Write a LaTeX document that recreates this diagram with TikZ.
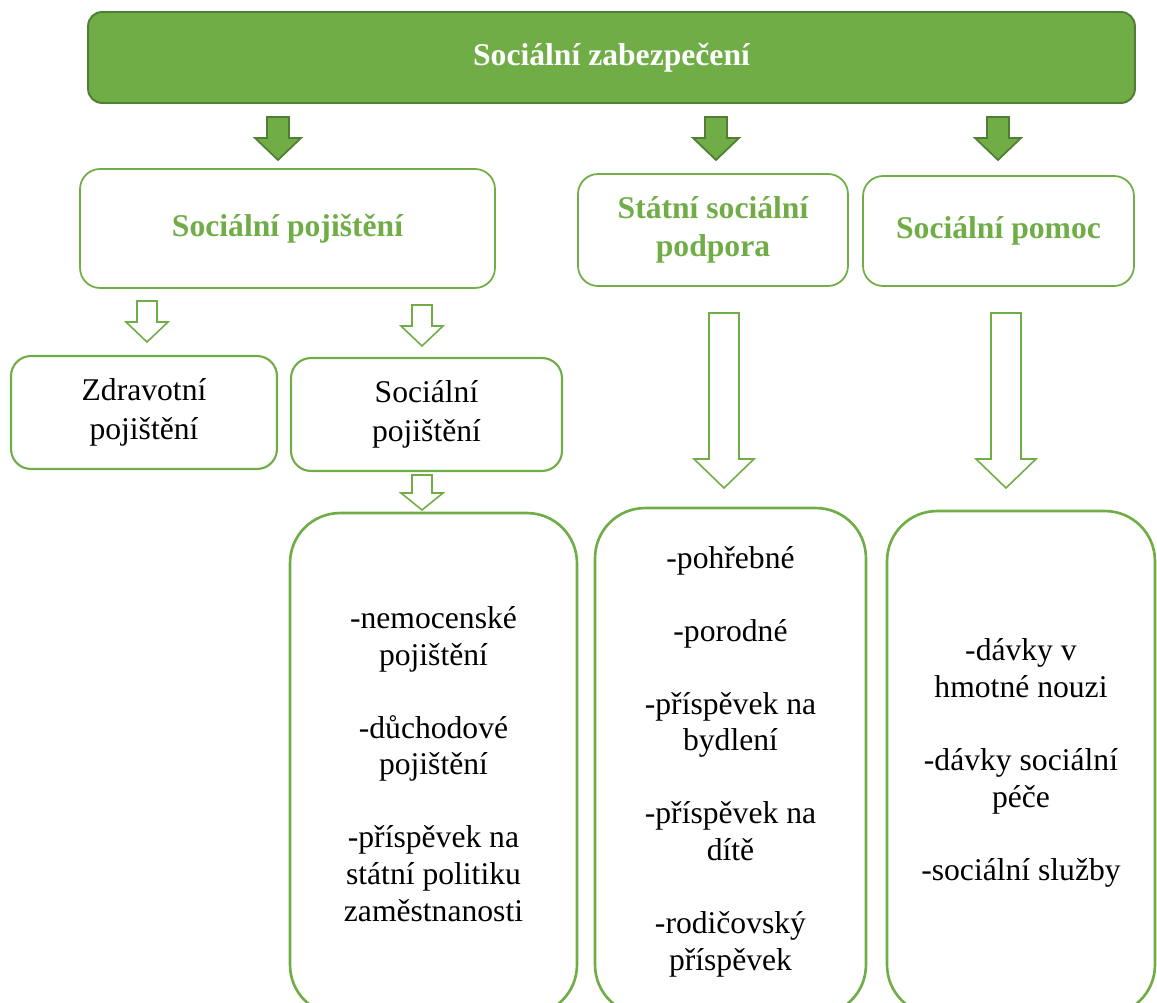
\documentclass[tikz,border=0pt]{standalone}
\usepackage{fontspec}
\setmainfont{Liberation Serif}
\usepackage{tikz}
\usetikzlibrary{calc, positioning}

\definecolor{sgreen}{HTML}{70AD47}
\definecolor{sdark}{HTML}{507E32}

% block arrow pointing down: style, x, top, head start, tip, shaft half, head half
\newcommand{\barrow}[7]{\draw[#1] (#2-#6,#3) -- (#2+#6,#3) -- (#2+#6,#4) -- (#2+#7,#4) -- (#2,#5) -- (#2-#7,#4) -- (#2-#6,#4) -- cycle;}

\begin{document}
\begin{tikzpicture}[x=0.02cm, y=-0.02cm,
  every node/.style={inner sep=0pt, align=center},
  headbox/.style={draw=sdark, fill=sgreen, line width=1.1pt, rounded corners=0.28cm, text=white,
    font=\fontsize{18}{21}\selectfont\bfseries},
  catbox/.style={draw=sgreen, fill=white, line width=1pt, rounded corners=0.4cm, text=sgreen,
    font=\fontsize{18}{21.6}\selectfont\bfseries},
  subbox/.style={draw=sgreen, fill=white, line width=1.2pt, rounded corners=0.4cm,
    font=\fontsize{18}{22.2}\selectfont},
  listbox/.style={draw=sgreen, fill=white, line width=1.5pt, rounded corners=1cm,
    font=\fontsize{18}{20.8}\selectfont},
  fullarrow/.style={draw=sdark, fill=sgreen, line width=1pt, line join=miter},
  openarrow/.style={draw=sgreen, fill=white, line width=0.9pt, line join=miter}]
\clip (0,0) rectangle (1157,1003);

\node[headbox, minimum width=20.94cm, minimum height=1.82cm] (head) at (611.5,57.5) {Sociální zabezpečení};

\node[catbox, minimum width=8.3cm, minimum height=2.38cm] (pojisteni) at (287.5,228.5) {Sociální pojištění};
\node[catbox, minimum width=5.4cm, minimum height=2.24cm] (podpora) at (713,230) {Státní sociální\\podpora};
\node[catbox, minimum width=5.42cm, minimum height=2.2cm] (pomoc) at (998.5,231) {Sociální pomoc};

\node[subbox, minimum width=5.32cm, minimum height=2.26cm] (zdravotni) at (144,412.5) {Zdravotní\\pojištění};
\node[subbox, minimum width=5.42cm, minimum height=2.26cm] (socialni) at (426.5,414.5) {Sociální\\pojištění};

\node[listbox, minimum width=5.74cm, minimum height=10.04cm] (davky) at (433.5,764)
  {-nemocenské\\pojištění\\[20.8pt]-důchodové\\pojištění\\[20.8pt]-příspěvek na\\státní politiku\\zaměstnanosti};
\node[listbox, minimum width=5.42cm, minimum height=10.14cm] (podporalist) at (730.5,761.5)
  {-pohřebné\\[20.8pt]-porodné\\[20.8pt]-příspěvek na\\bydlení\\[20.8pt]-příspěvek na\\dítě\\[20.8pt]-rodičovský\\příspěvek};
\node[listbox, minimum width=5.36cm, minimum height=10.08cm] (pomoclist) at (1021,763)
  {-dávky v\\hmotné nouzi\\[20.8pt]-dávky sociální\\péče\\[20.8pt]-sociální služby};

% arrows from the head box
\barrow{fullarrow}{278}{117}{138}{160}{11}{23}
\barrow{fullarrow}{716}{117}{138}{160}{11}{23}
\barrow{fullarrow}{998}{117}{138}{160}{11}{23}

% open arrows
\barrow{openarrow}{147}{301}{322}{342}{10}{21}
\barrow{openarrow}{422}{305}{326}{346}{10}{21}
\barrow{openarrow}{422}{475}{493}{510}{10}{21}
\barrow{openarrow}{724}{313}{459}{488}{15}{30}
\barrow{openarrow}{1006}{313}{459}{488}{15}{30}
\end{tikzpicture}
\end{document}
